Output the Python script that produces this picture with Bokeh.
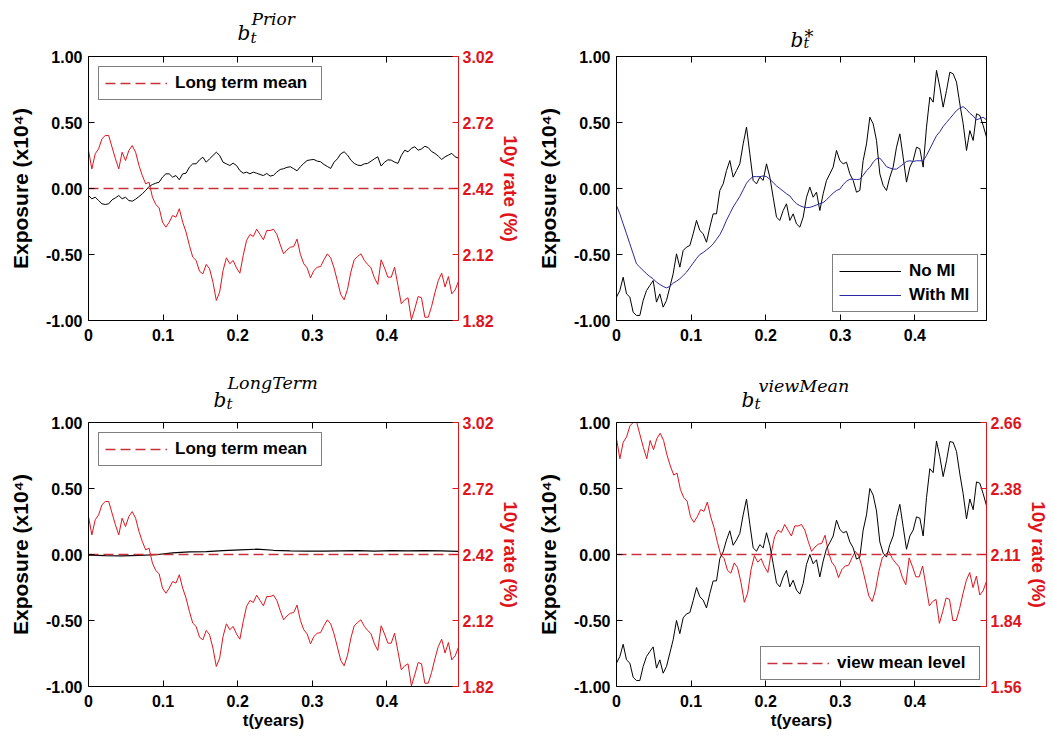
import numpy as np
from bokeh.plotting import figure
from bokeh.models import Range1d, LinearAxis, FixedTicker
from bokeh.core.properties import value
from bokeh.layouts import column, row
from bokeh.embed import file_html
from bokeh.resources import INLINE

# ---------------- data ----------------
T_END = 0.496  # years shown on the x axis

# 10y rate (%) -- same path in every panel that shows it
rate_10y = [2.593, 2.509, 2.578, 2.600, 2.646, 2.661, 2.661, 2.608, 2.555, 2.509,
            2.585, 2.547, 2.593, 2.615, 2.585, 2.525, 2.479, 2.441, 2.449, 2.381,
            2.347, 2.332, 2.267, 2.244, 2.267, 2.297, 2.290, 2.328, 2.267, 2.222,
            2.161, 2.108, 2.093, 2.044, 2.032, 2.075, 2.055, 1.994, 1.911, 1.949,
            2.047, 2.105, 2.078, 2.093, 2.059, 2.035, 2.116, 2.184, 2.211, 2.202,
            2.235, 2.211, 2.187, 2.229, 2.229, 2.235, 2.211, 2.165, 2.123, 2.141,
            2.153, 2.156, 2.190, 2.120, 2.078, 2.059, 2.014, 2.047, 2.062, 2.065,
            2.096, 2.123, 2.105, 2.059, 1.999, 1.938, 1.914, 1.962, 2.040, 2.096,
            2.111, 2.123, 2.093, 2.075, 2.059, 2.014, 1.984, 2.096, 2.059, 2.017,
            2.017, 2.062, 1.979, 1.896, 1.914, 1.923, 1.823, 1.873, 1.929, 1.923,
            1.835, 1.835, 1.884, 1.947, 2.002, 2.035, 1.972, 2.020, 1.941, 1.959,
            1.999]

# exposure (x10^4) series
b_prior = [-0.053, -0.078, -0.066, -0.091, -0.116, -0.121, -0.116, -0.086, -0.071, -0.053,
           -0.078, -0.066, -0.091, -0.096, -0.081, -0.061, -0.040, -0.015, 0.015, 0.030,
           0.040, 0.048, 0.086, 0.111, 0.111, 0.086, 0.098, 0.066, 0.111, 0.116,
           0.162, 0.187, 0.187, 0.217, 0.237, 0.199, 0.225, 0.250, 0.275, 0.250,
           0.199, 0.187, 0.174, 0.192, 0.174, 0.136, 0.116, 0.124, 0.111, 0.124,
           0.116, 0.106, 0.098, 0.114, 0.094, 0.100, 0.125, 0.144, 0.150, 0.160,
           0.165, 0.150, 0.134, 0.165, 0.190, 0.212, 0.217, 0.220, 0.207, 0.203,
           0.182, 0.167, 0.152, 0.199, 0.225, 0.263, 0.278, 0.253, 0.215, 0.190,
           0.177, 0.174, 0.187, 0.190, 0.207, 0.225, 0.240, 0.170, 0.199, 0.217,
           0.215, 0.200, 0.190, 0.250, 0.290, 0.278, 0.305, 0.316, 0.290, 0.300,
           0.320, 0.310, 0.280, 0.266, 0.245, 0.220, 0.240, 0.253, 0.266, 0.240,
           0.230]

b_star_no_mi = [-0.823, -0.773, -0.672, -0.798, -0.823, -0.937, -0.962, -0.962, -0.848, -0.773,
                -0.735, -0.697, -0.861, -0.798, -0.899, -0.848, -0.747, -0.646, -0.495, -0.596,
                -0.470, -0.444, -0.432, -0.343, -0.242, -0.318, -0.343, -0.407, -0.293, -0.192,
                -0.192, -0.015, 0.035, 0.136, 0.212, 0.086, 0.136, 0.187, 0.338, 0.465,
                0.263, 0.061, 0.035, 0.086, 0.061, 0.187, 0.086, -0.066, -0.217, -0.242,
                -0.167, -0.116, -0.242, -0.192, -0.268, -0.293, -0.217, -0.066, 0.010, -0.066,
                -0.028, -0.167, -0.040, 0.061, 0.111, 0.162, 0.288, 0.212, 0.187, 0.199,
                0.111, 0.061, -0.028, -0.015, 0.212, 0.338, 0.540, 0.490, 0.364, 0.111,
                0.023, -0.015, 0.086, 0.162, 0.313, 0.414, 0.237, 0.048, 0.162, 0.212,
                0.313, 0.301, 0.162, 0.465, 0.692, 0.654, 0.894, 0.768, 0.616, 0.742,
                0.881, 0.869, 0.806, 0.641, 0.490, 0.288, 0.439, 0.364, 0.566, 0.553,
                0.477, 0.389]

b_star_with_mi = [-0.129, -0.192, -0.268, -0.343, -0.419, -0.495, -0.571, -0.596, -0.621, -0.646,
                  -0.667, -0.684, -0.710, -0.727, -0.742, -0.753, -0.742, -0.717, -0.702, -0.684,
                  -0.659, -0.634, -0.600, -0.565, -0.530, -0.500, -0.485, -0.465, -0.445, -0.420,
                  -0.385, -0.350, -0.300, -0.240, -0.190, -0.140, -0.100, -0.060, -0.010, 0.040,
                  0.070, 0.090, 0.090, 0.090, 0.095, 0.090, 0.070, 0.045, 0.020, 0.000,
                  -0.020, -0.040, -0.056, -0.090, -0.115, -0.130, -0.140, -0.145, -0.143, -0.135,
                  -0.125, -0.115, -0.107, -0.085, -0.060, -0.035, -0.015, -0.005, 0.030, 0.055,
                  0.070, 0.070, 0.068, 0.070, 0.100, 0.135, 0.160, 0.200, 0.225, 0.230,
                  0.200, 0.165, 0.155, 0.147, 0.147, 0.165, 0.185, 0.205, 0.210, 0.205,
                  0.210, 0.210, 0.210, 0.250, 0.300, 0.350, 0.400, 0.430, 0.470, 0.500,
                  0.530, 0.560, 0.590, 0.610, 0.620, 0.600, 0.570, 0.550, 0.520, 0.530,
                  0.540, 0.520]

b_long_term = [-0.005, -0.008, -0.010, -0.006, -0.002, 0.012, 0.020, 0.022, 0.030, 0.035,
               0.040, 0.032, 0.028, 0.025, 0.025, 0.028, 0.030, 0.026, 0.030, 0.028,
               0.030, 0.028, 0.024]

b_view_mean = [-0.823, -0.773, -0.680, -0.798, -0.823, -0.930, -0.955, -0.955, -0.848, -0.773,
               -0.735, -0.700, -0.861, -0.798, -0.899, -0.848, -0.747, -0.646, -0.500, -0.600,
               -0.480, -0.450, -0.440, -0.350, -0.250, -0.320, -0.345, -0.405, -0.295, -0.200,
               -0.200, -0.030, 0.020, 0.110, 0.180, 0.070, 0.110, 0.160, 0.300, 0.420,
               0.230, 0.050, 0.025, 0.075, 0.050, 0.165, 0.070, -0.070, -0.215, -0.245,
               -0.170, -0.120, -0.245, -0.195, -0.270, -0.300, -0.220, -0.075, 0.000, -0.070,
               -0.040, -0.170, -0.050, 0.045, 0.090, 0.140, 0.260, 0.190, 0.165, 0.175,
               0.095, 0.050, -0.035, -0.020, 0.185, 0.300, 0.500, 0.450, 0.330, 0.095,
               0.010, -0.020, 0.075, 0.140, 0.280, 0.380, 0.210, 0.040, 0.140, 0.185,
               0.285, 0.275, 0.140, 0.430, 0.650, 0.620, 0.860, 0.740, 0.590, 0.710,
               0.855, 0.850, 0.780, 0.610, 0.460, 0.270, 0.420, 0.340, 0.550, 0.540,
               0.460, 0.370]

long_term_mean = 2.42
view_mean_level = 2.11

time_ticks = [0, 0.1, 0.2, 0.3, 0.4]
time_tick_labels = ["0", "0.1", "0.2", "0.3", "0.4"]
exposure_ticks = [-1.0, -0.5, 0.0, 0.5, 1.0]
exposure_tick_labels = ["-1.00", "-0.50", "0.00", "0.50", "1.00"]
rate_ticks_lt = [1.82, 2.12, 2.42, 2.72, 3.02]
rate_tick_labels_lt = ["1.82", "2.12", "2.42", "2.72", "3.02"]
rate_ticks_vm = [1.56, 1.835, 2.11, 2.385, 2.66]
rate_tick_labels_vm = ["1.56", "1.84", "2.11", "2.38", "2.66"]

# ---------------- styling ----------------
SANS = "Liberation Sans"
SERIF = "DejaVu Serif"
RED = "#e0141c"
RED_DASH = "#c8303a"
BLUE = "#2828a0"
DASH = "10 5"
FRAME_W = 370


def t_of(series):
    return np.linspace(0, T_END, len(series))


def style_axis(ax, color="black", label_size="16px"):
    ax.major_tick_in = 6
    ax.major_tick_out = 0
    ax.minor_tick_line_color = None
    ax.axis_line_color = color
    ax.major_tick_line_color = color
    ax.major_label_text_color = color
    ax.major_label_text_font = SANS
    ax.major_label_text_font_style = "bold"
    ax.major_label_text_font_size = label_size
    ax.major_label_standoff = 5
    ax.axis_label_text_color = color
    ax.axis_label_text_font = SANS
    ax.axis_label_text_font_style = "bold"


def make_panel(bl, br, bt, bb, rate_range=None, rate_ticks=None, rate_labels=None, xlabel=False):
    p = figure(frame_width=FRAME_W, frame_height=264,
               x_range=Range1d(0, T_END), y_range=Range1d(-1, 1),
               output_backend="svg", toolbar_location=None,
               min_border_left=bl, min_border_right=br, min_border_top=bt, min_border_bottom=bb,
               outline_line_color=None, background_fill_color="white", border_fill_color="white")
    p.grid.visible = False

    xa = p.xaxis[0]
    xa.ticker = FixedTicker(ticks=time_ticks)
    xa.major_label_overrides = dict(zip(time_ticks, time_tick_labels))
    style_axis(xa)
    xa.major_label_standoff = 8
    if xlabel:
        xa.axis_label = "t(years)"
        xa.axis_label_text_font_size = "17px"
        xa.axis_label_standoff = 1

    ya = p.yaxis[0]
    ya.ticker = FixedTicker(ticks=exposure_ticks)
    ya.major_label_overrides = dict(zip(exposure_ticks, exposure_tick_labels))
    style_axis(ya)
    ya.major_label_standoff = 6
    ya.axis_label = "Exposure (x10\u2074)"
    ya.axis_label_text_font_size = "21px"
    ya.axis_label_standoff = 11

    top = LinearAxis(ticker=FixedTicker(ticks=time_ticks),
                     major_label_overrides={t: "" for t in time_ticks})
    style_axis(top, label_size="1px")
    top.major_label_standoff = 0
    p.add_layout(top, "above")

    if rate_range is not None:
        p.extra_y_ranges = {"rate": Range1d(*rate_range)}
        ra = LinearAxis(y_range_name="rate", ticker=FixedTicker(ticks=rate_ticks),
                        major_label_overrides=dict(zip(rate_ticks, rate_labels)))
        style_axis(ra, color=RED)
        ra.major_label_standoff = 4
        ra.axis_label = "10y rate (%)"
        ra.axis_label_text_font_size = "19px"
        ra.axis_label_standoff = 3
        p.add_layout(ra, "right")
    else:
        ra = LinearAxis(ticker=FixedTicker(ticks=exposure_ticks),
                        major_label_overrides={t: "" for t in exposure_ticks})
        style_axis(ra, label_size="1px")
        ra.major_label_standoff = 0
        p.add_layout(ra, "right")
    return p


def title_fig(height, frame_left, parts):
    """Title strip whose frame is aligned (by the column) with the panel frame below it.
    parts: (x, y, text, font size); x in page pixels, y in pixels above the strip bottom."""
    f = figure(frame_width=FRAME_W, frame_height=height,
               x_range=Range1d(frame_left, frame_left + FRAME_W), y_range=Range1d(0, height),
               output_backend="svg", toolbar_location=None, x_axis_type=None, y_axis_type=None,
               min_border=0, outline_line_color=None, background_fill_color="white",
               border_fill_color="white")
    f.grid.visible = False
    for x, y, text, size in parts:
        f.text(x=[x], y=[y], text=[text], text_font=value(SERIF), text_font_style="italic",
               text_font_size=size, text_color="black", text_baseline="alphabetic",
               text_align="left")
    return f


def style_legend(p, location, margin, glyph_width, label_width):
    lg = p.legend[0]
    lg.location = location
    lg.margin = margin
    lg.padding = 6
    lg.spacing = 4
    lg.glyph_width = glyph_width
    lg.glyph_height = 20
    lg.label_standoff = 8
    lg.label_width = label_width
    lg.label_height = 20
    lg.label_text_font = SANS
    lg.label_text_font_style = "bold"
    lg.label_text_font_size = "17px"
    lg.label_text_color = "black"
    lg.border_line_color = "black"
    lg.border_line_width = 1
    lg.background_fill_color = "white"
    lg.background_fill_alpha = 1.0


# ---- panel 1: b_t^Prior ----
t1 = title_fig(50, 88, [(237, 18, "b", "20px"), (250, 13, "t", "15px"), (251, 32, "Prior", "17px")])
p1 = make_panel(88, 68, 6, 44, (1.82, 3.02), rate_ticks_lt, rate_tick_labels_lt)
p1.line(t_of(b_prior), b_prior, line_color="black", line_width=1)
p1.line(t_of(rate_10y), rate_10y, y_range_name="rate", line_color=RED, line_width=1)
p1.line([0, T_END], [long_term_mean, long_term_mean], y_range_name="rate",
        line_color=RED_DASH, line_width=1.3, line_dash=DASH, legend_label="Long term mean")
style_legend(p1, "top_left", 10, 62, 140)

# ---- panel 2: b_t^* ----
t2 = title_fig(50, 616, [(790, 11, "b", "20px"), (803, 8, "t", "14px"), (804, 14, "*", "18px")])
p2 = make_panel(90, 58, 6, 44)
p2.line(t_of(b_star_no_mi), b_star_no_mi, line_color="black", line_width=1, legend_label="No MI")
p2.line(t_of(b_star_with_mi), b_star_with_mi, line_color=BLUE, line_width=1, legend_label="With MI")
style_legend(p2, "bottom_right", 8, 62, 62)

# ---- panel 3: b_t^LongTerm ----
t3 = title_fig(52, 88, [(213, 17, "b", "20px"), (226, 13, "t", "15px"), (227, 34, "LongTerm", "17.5px")])
p3 = make_panel(88, 68, 6, 44, (1.82, 3.02), rate_ticks_lt, rate_tick_labels_lt, xlabel=True)
p3.line(t_of(b_long_term), b_long_term, line_color="black", line_width=1.2)
p3.line(t_of(rate_10y), rate_10y, y_range_name="rate", line_color=RED, line_width=1)
p3.line([0, T_END], [long_term_mean, long_term_mean], y_range_name="rate",
        line_color=RED_DASH, line_width=1.3, line_dash=DASH, legend_label="Long term mean")
style_legend(p3, "top_left", 10, 62, 140)

# ---- panel 4: b_t^viewMean ----
t4 = title_fig(52, 616, [(741, 17, "b", "20px"), (754, 13, "t", "15px"), (758, 31, "viewMean", "17.5px")])
p4 = make_panel(90, 58, 6, 44, (1.56, 2.66), rate_ticks_vm, rate_tick_labels_vm, xlabel=True)
p4.line(t_of(rate_10y), rate_10y, y_range_name="rate", line_color=RED, line_width=1)
p4.line(t_of(b_view_mean), b_view_mean, line_color="black", line_width=1)
p4.line([0, T_END], [view_mean_level, view_mean_level], y_range_name="rate",
        line_color=RED_DASH, line_width=1.3, line_dash=DASH, legend_label="view mean level")
style_legend(p4, "bottom_right", 6, 62, 136)

layout = column(row(column(t1, p1), column(t2, p2)),
                row(column(t3, p3), column(t4, p4)))
open("out.html", "w").write(file_html(layout, INLINE))
